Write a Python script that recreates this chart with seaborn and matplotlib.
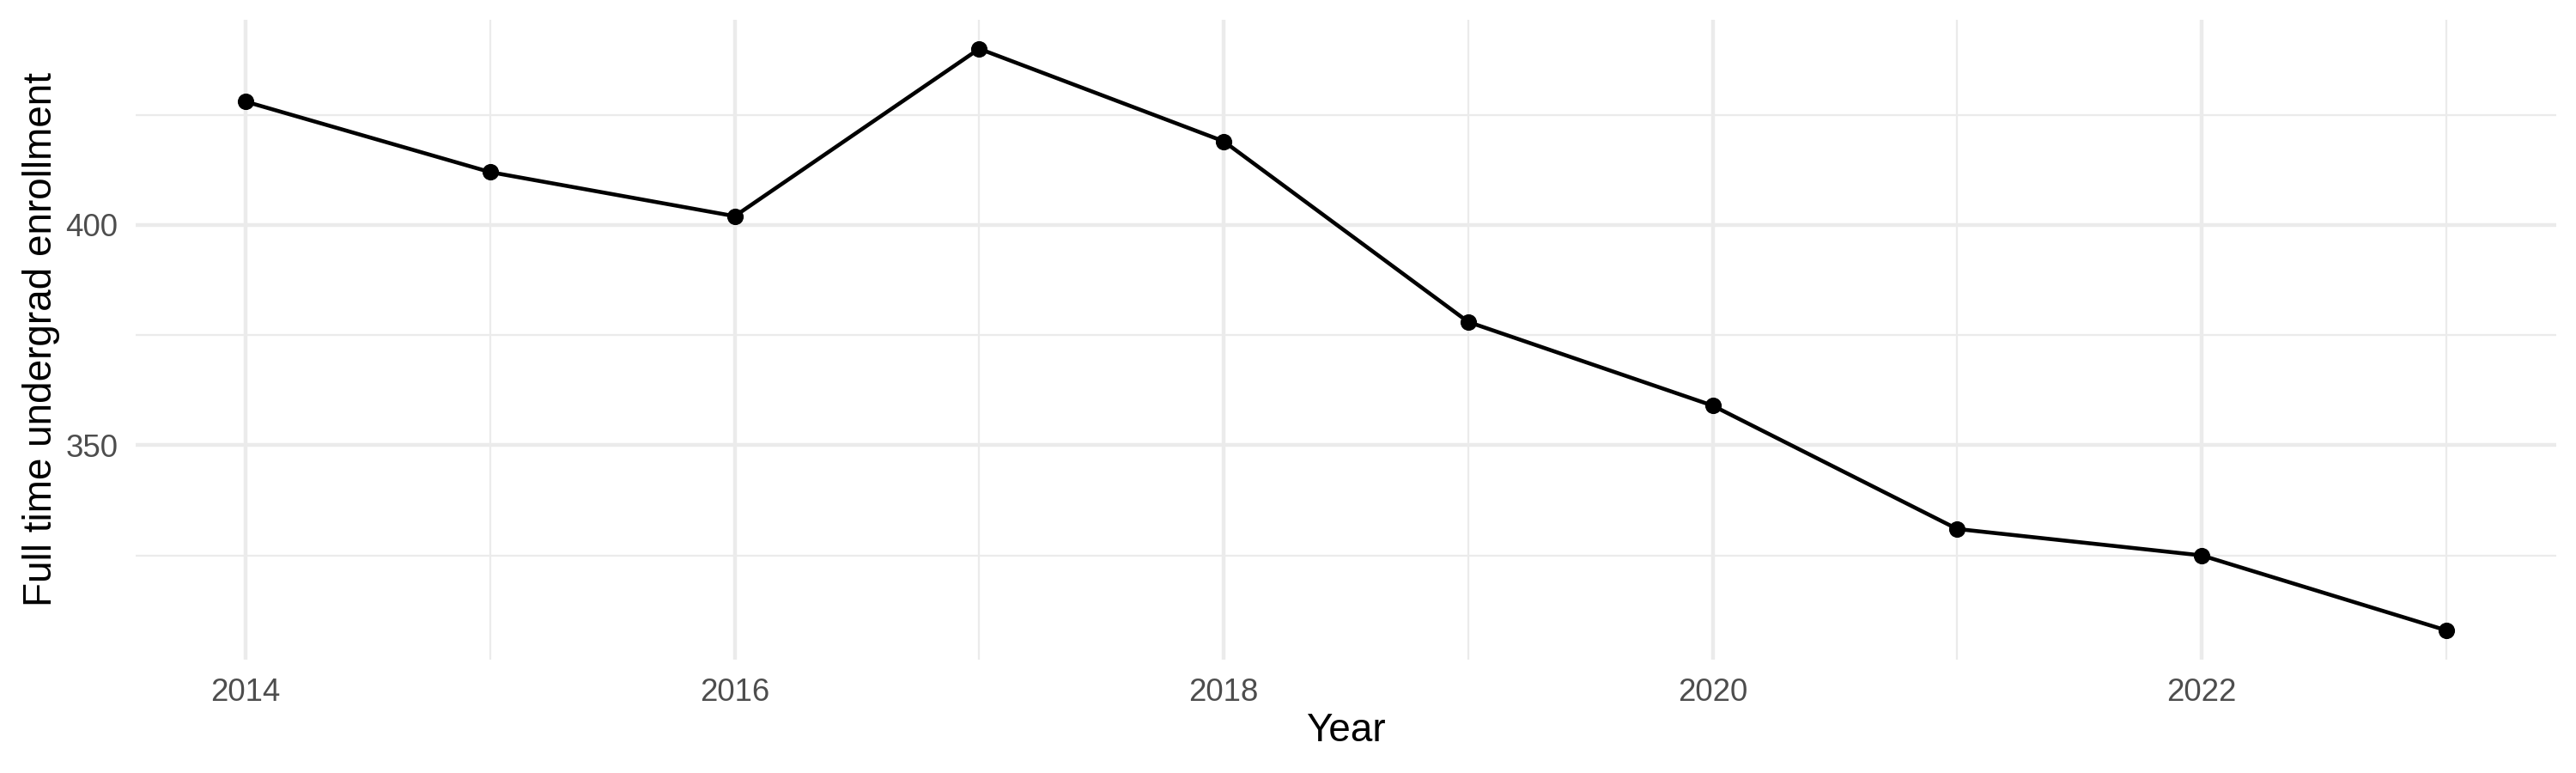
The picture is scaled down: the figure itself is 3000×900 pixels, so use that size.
import numpy as np
import pandas as pd
import matplotlib
matplotlib.use("Agg")
import matplotlib.pyplot as plt
import seaborn as sns

# enrollment values
years = [2014, 2015, 2016, 2017, 2018, 2019, 2020, 2021, 2022, 2023]
enrollment = [428, 412, 402, 440, 419, 378, 359, 331, 325, 308]

major_x = [2014, 2016, 2018, 2020, 2022]
minor_x = [2015, 2017, 2019, 2021, 2023]
major_y = [350, 400]
minor_y = [325, 375, 425]

GRID = "#EBEBEB"
TICK_COLOR = "#4D4D4D"

sns.set_theme(style="white")
plt.rcParams["font.family"] = ["Liberation Sans", "DejaVu Sans"]

df = pd.DataFrame({"Year": years, "Enrollment": enrollment})

fig = plt.figure(figsize=(10, 3), dpi=300)
ax = fig.add_axes([0.0527, 0.147, 0.9396, 0.8275])

sns.lineplot(
    data=df,
    x="Year",
    y="Enrollment",
    color="black",
    linewidth=1.1,
    marker="o",
    markersize=4.6,
    markeredgewidth=0,
    ax=ax,
    zorder=3,
)

# ggplot-like expansion (5% on each side)
xr = max(years) - min(years)
yr = max(enrollment) - min(enrollment)
ax.set_xlim(min(years) - 0.05 * xr, max(years) + 0.05 * xr)
ax.set_ylim(min(enrollment) - 0.05 * yr, max(enrollment) + 0.05 * yr)

ax.set_xticks(major_x)
ax.set_xticks(minor_x, minor=True)
ax.set_yticks(major_y)
ax.set_yticks(minor_y, minor=True)

ax.grid(which="major", color=GRID, linewidth=1.07)
ax.grid(which="minor", color=GRID, linewidth=0.53)
ax.set_axisbelow(True)

for s in ax.spines.values():
    s.set_visible(False)

ax.tick_params(which="both", length=0, pad=5, labelsize=8.8, labelcolor=TICK_COLOR)

ax.set_xlabel("Year", fontsize=11, color="black", va="center")
ax.set_ylabel("Full time undergrad enrollment", fontsize=11, color="black", va="center")
ax.xaxis.set_label_coords(0.5, -0.112)
ax.yaxis.set_label_coords(-0.0391, 0.5)

plt.savefig("out.png", dpi=300)
